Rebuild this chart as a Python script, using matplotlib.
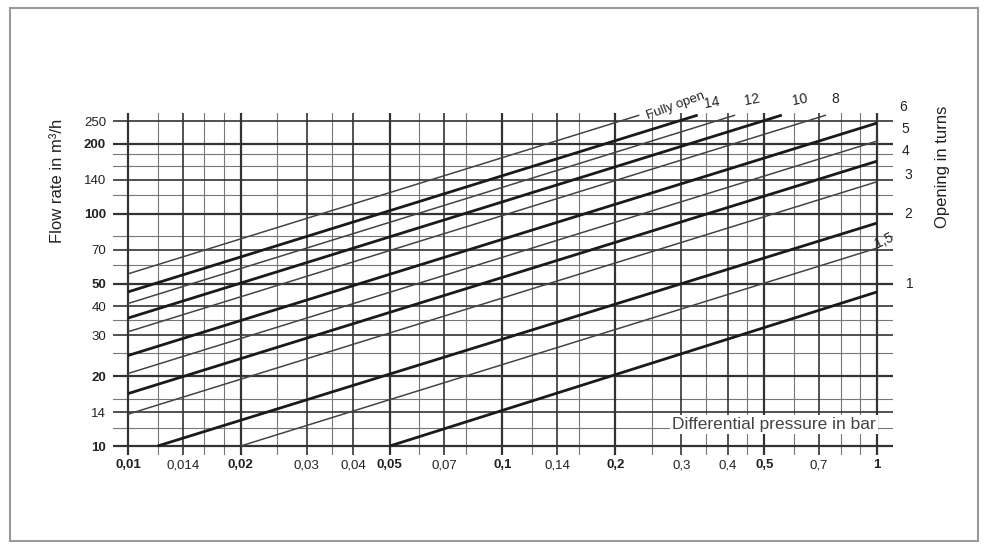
import numpy as np
import matplotlib
matplotlib.use("Agg")
import matplotlib.pyplot as plt
from matplotlib.patches import Rectangle

plt.rcParams['font.family'] = ['Liberation Sans', 'DejaVu Sans']

# Opening curves: label, start point and end point (differential pressure in bar, flow in m3/h)
openings = ["Fully open", "14", "12", "10", "8", "6", "5", "4", "3", "2", "1,5", "1"]
start_dp = [0.01, 0.01, 0.01, 0.01, 0.01, 0.01, 0.01, 0.01, 0.01, 0.012, 0.02, 0.05]
start_q = [55, 46, 41, 35.5, 31, 24.5, 20.5, 16.8, 13.7, 10, 10, 10]
end_dp = [0.232, 0.332, 0.418, 0.557, 0.731, 1, 1, 1, 1, 1, 1, 1]
end_q = [265, 265, 265, 265, 265, 245, 205, 168, 137, 91, 71, 46]
thick = [False, True, False, True, False, True, False, True, False, True, False, True]

# axis ticks / grid
x_major = [0.01, 0.014, 0.02, 0.03, 0.04, 0.05, 0.07, 0.1, 0.14, 0.2, 0.3, 0.4, 0.5, 0.7, 1]
x_labels = ["0,01", "0,014", "0,02", "0,03", "0,04", "0,05", "0,07", "0,1", "0,14", "0,2",
            "0,3", "0,4", "0,5", "0,7", "1"]
x_bold = ["0,01", "0,02", "0,05", "0,1", "0,2", "0,5", "1"]
x_minor = [0.012, 0.016, 0.018, 0.025, 0.035, 0.06, 0.08, 0.12, 0.16, 0.25, 0.35, 0.45, 0.6, 0.8, 0.9]

y_major = [10, 14, 20, 30, 40, 50, 70, 100, 140, 200, 250]
y_labels = ["10", "14", "20", "30", "40", "50", "70", "100", "140", "200", "250"]
y_bold = ["10", "20", "50", "100", "200"]
y_minor = [12, 16, 25, 35, 60, 80, 120, 160, 180]

fig = plt.figure(figsize=(9.86, 5.51), dpi=100)
ax = fig.add_axes([0.1146, 0.1742, 0.7911, 0.6207])
ax.set_xscale('log')
ax.set_yscale('log')
ax.set_xlim(0.00912, 1.1034)
ax.set_ylim(9.146, 270.6)
for s in ax.spines.values():
    s.set_visible(False)

# grid
for v in x_minor:
    ax.axvline(v, color='#777777', lw=0.8, zorder=1)
for v in y_minor:
    ax.axhline(v, color='#777777', lw=0.8, zorder=1)
for v, lab in zip(x_major, x_labels):
    ax.axvline(v, color='#333333', lw=1.6 if lab in x_bold else 1.2, zorder=1)
for v, lab in zip(y_major, y_labels):
    ax.axhline(v, color='#333333', lw=1.6 if lab in y_bold else 1.2, zorder=1)

# opening curves
for i in range(len(openings)):
    ax.plot([start_dp[i], end_dp[i]], [start_q[i], end_q[i]],
            color='#1a1a1a' if thick[i] else '#444444',
            lw=2.0 if thick[i] else 1.1, zorder=3, clip_on=False,
            solid_capstyle='butt')

# ticks
ax.minorticks_off()
ax.set_xticks(x_major)
ax.set_xticklabels(x_labels)
ax.set_yticks(y_major)
ax.set_yticklabels(y_labels)
ax.tick_params(axis='both', length=0, labelsize=9.5, colors='#222222')
ax.tick_params(axis='x', pad=3)
ax.tick_params(axis='y', pad=5)
for t in ax.get_xticklabels():
    if t.get_text() in x_bold:
        t.set_fontweight('bold')
for t in ax.get_yticklabels():
    if t.get_text() in y_bold:
        t.set_fontweight('bold')

# curve labels
label_pos = {
    "Fully open": (0.29, 290, 20), "14": (0.3625, 301, 10), "12": (0.4637, 310, 10),
    "10": (0.623, 310, 10), "8": (0.773, 310, 0), "6": (1.173, 286, 0),
    "5": (1.188, 230, 0), "4": (1.195, 185, 0), "3": (1.21, 146, 0),
    "2": (1.21, 100, 0), "1,5": (1.044, 76.5, 25), "1": (1.225, 49.9, 0),
}
for name in openings:
    px, py, rot = label_pos[name]
    ax.text(px, py, name, fontsize=9.5 if name == "Fully open" else 10,
            ha='center', va='center', rotation=rot, color='#222222', clip_on=False)

ax.text(0.995, 12.4, "Differential pressure in bar", fontsize=12.5, ha='right', va='center',
        color='#444444', zorder=4,
        bbox=dict(facecolor='white', edgecolor='none', pad=1.5))

fig.text(57 / 986, 1 - 181 / 551, "Flow rate in m³/h", rotation=90, fontsize=12,
         ha='center', va='center', color='#222222')
fig.text(943 / 986, 1 - 167 / 551, "Opening in turns", rotation=90, fontsize=12,
         ha='center', va='center', color='#222222')

# outer frame
fig.patches.append(Rectangle((10 / 986, 1 - 541 / 551), 968 / 986, 533 / 551,
                             transform=fig.transFigure, fill=False,
                             edgecolor='#999999', lw=1.5))

fig.savefig("out.png", dpi=100)
